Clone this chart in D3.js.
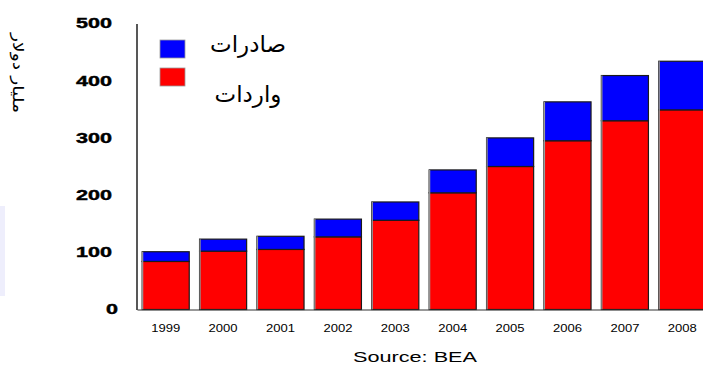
<!DOCTYPE html>
<html>
<head>
<meta charset="utf-8">
<script src="https://cdn.jsdelivr.net/npm/d3@7"></script>
<style>
  html, body { margin: 0; padding: 0; background: #fff; }
  svg { display: block; }
</style>
</head>
<body>
<svg id="chart" width="703" height="367"></svg>
<script>
// Trade values, billions of dollars
const years = ["1999", "2000", "2001", "2002", "2003", "2004", "2005", "2006", "2007", "2008"];
const imports = [84, 102, 105, 127, 156, 204, 250, 295, 330, 349];
const exports = [17, 21, 23, 31, 32, 40, 50, 68, 79, 85];
const yTicks = [0, 100, 200, 300, 400, 500];

const seriesNames = { exports: "صادرات", imports: "واردات" };
const colors = { exports: "#0000ff", imports: "#ff0000" };

const svg = d3.select("#chart");

// faint panel at the left edge
svg.append("rect")
  .attr("x", 0).attr("y", 206).attr("width", 5).attr("height", 90)
  .attr("fill", "#eeeefc");

const x = d3.scaleBand()
  .domain(years)
  .range([137, 711])
  .paddingInner(0.18)
  .paddingOuter(0.09);

const y = d3.scaleLinear()
  .domain([0, 500])
  .range([309.5, 23.5]);

const rows = years.map((yr, i) => ({ year: yr, imports: imports[i], exports: exports[i] }));
const stacked = d3.stack().keys(["imports", "exports"])(rows);

// bars
const g = svg.append("g");
stacked.forEach(layer => {
  g.append("g")
    .selectAll("rect")
    .data(layer)
    .join("rect")
    .attr("x", d => x(d.data.year))
    .attr("y", d => y(d[1]))
    .attr("width", x.bandwidth())
    .attr("height", d => y(d[0]) - y(d[1]))
    .attr("fill", colors[layer.key])
    .attr("stroke", "#1a1a1a")
    .attr("stroke-width", 1.2);
});

// left edge highlight on each bar
g.append("g")
  .selectAll("line")
  .data(rows)
  .join("line")
  .attr("x1", d => x(d.year) + 0.5)
  .attr("x2", d => x(d.year) + 0.5)
  .attr("y1", d => y(d.imports + d.exports))
  .attr("y2", y(0))
  .attr("stroke", "#9a9a9a")
  .attr("stroke-width", 1.2);

// y axis
const yAxis = svg.append("g")
  .attr("transform", "translate(136.5,0)")
  .call(d3.axisLeft(y).tickValues(yTicks).tickSize(0).tickPadding(24).tickSizeOuter(0));
yAxis.select(".domain").attr("stroke", "#111").attr("stroke-width", 1.4);
yAxis.selectAll("text")
  .attr("font-family", "Liberation Sans, Arial, sans-serif")
  .attr("font-weight", "bold")
  .attr("font-size", 14)
  .attr("fill", "#000")
  .attr("stroke", "#000")
  .attr("stroke-width", 0.4)
  .attr("textLength", d => d === 0 ? 12 : 36)
  .attr("lengthAdjust", "spacingAndGlyphs")
  .attr("x", d => d === 0 ? -18.5 : -24.5);

// x axis
const xAxis = svg.append("g")
  .attr("transform", "translate(0,309.5)")
  .call(d3.axisBottom(x).tickSize(0).tickPadding(15).tickSizeOuter(0));
xAxis.select(".domain").attr("stroke", "#333").attr("stroke-width", 1.2);
xAxis.selectAll("text")
  .attr("font-family", "Liberation Sans, Arial, sans-serif")
  .attr("font-size", 11)
  .attr("fill", "#000")
  .attr("textLength", 29)
  .attr("lengthAdjust", "spacingAndGlyphs");

// y axis title
svg.append("text")
  .attr("transform", "translate(13,73) rotate(90)")
  .attr("text-anchor", "middle")
  .attr("font-family", "DejaVu Sans, sans-serif")
  .attr("font-size", 15)
  .attr("fill", "#000")
  .attr("textLength", 80)
  .attr("lengthAdjust", "spacingAndGlyphs")
  .text("مليار دولار");

// legend
const legend = [
  { key: "exports", sy: 40, ty: 52 },
  { key: "imports", sy: 68, ty: 102 }
];
legend.forEach(l => {
  svg.append("rect")
    .attr("x", 160).attr("y", l.sy)
    .attr("width", 25).attr("height", 18)
    .attr("fill", colors[l.key])
    .attr("stroke", "#999").attr("stroke-width", 0.8);
  svg.append("text")
    .attr("x", 248).attr("y", l.ty)
    .attr("text-anchor", "middle")
    .attr("font-family", "DejaVu Sans, sans-serif")
    .attr("font-size", 23)
    .attr("fill", "#000")
    .text(seriesNames[l.key]);
});

// source note
svg.append("text")
  .attr("x", 353).attr("y", 362)
  .attr("font-family", "Liberation Sans, Arial, sans-serif")
  .attr("font-size", 14)
  .attr("fill", "#000")
  .attr("textLength", 124)
  .attr("lengthAdjust", "spacingAndGlyphs")
  .text("Source: BEA");
</script>
</body>
</html>
